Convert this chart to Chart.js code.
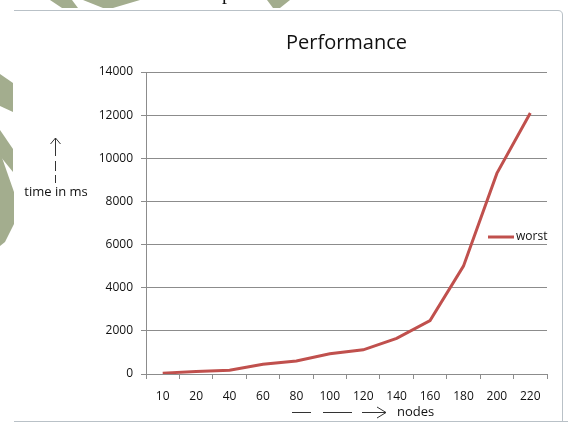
<!DOCTYPE html>
<html>
<head>
<meta charset="utf-8">
<script src="https://cdn.jsdelivr.net/npm/chart.js@4"></script>
<style>
  html, body { margin: 0; padding: 0; background: #ffffff; }
  #wrap { position: relative; width: 568px; height: 428px; }
</style>
</head>
<body>
<div id="wrap"><canvas id="perf" width="568" height="428"></canvas></div>
<script>
// Number of nodes on the x axis
const nodes = ['10', '20', '40', '60', '80', '100', '120', '140', '160', '180', '200', '220'];
// Worst-case running time in milliseconds
const worst = [40, 120, 175, 450, 600, 940, 1120, 1650, 2480, 5000, 9300, 12100];
// Value axis range
const yMin = 0;
const yMax = 14000;
const yStep = 2000;

const FONT = '"Open Sans", "Liberation Sans", sans-serif';
const GRID = '#8c8c8c';
const LINE = '#c0504d';
const TEXT = '#111111';

// Page furniture behind the chart: frame, decorative shapes, clipped heading text
const backdrop = {
  id: 'backdrop',
  beforeDraw(chart) {
    const ctx = chart.ctx;
    ctx.save();
    ctx.fillStyle = '#ffffff';
    ctx.fillRect(0, 0, chart.width, chart.height);

    ctx.fillStyle = '#a3ad8e';
    const shapes = [
      [[50, 0], [72, 0], [78, 8], [62, 8]],
      [[83, 0], [140, 0], [113, 8], [103, 8]],
      [[267, 0], [290, 0], [280, 8], [273, 8]],
      [[0, 74], [13, 83], [13, 112], [0, 106]],
      [[0, 130], [13, 149], [13, 172], [0, 156]],
      [[0, 152], [14, 192], [14, 224], [5, 242], [0, 246]]
    ];
    shapes.forEach(pts => {
      ctx.beginPath();
      ctx.moveTo(pts[0][0], pts[0][1]);
      pts.slice(1).forEach(p => ctx.lineTo(p[0], p[1]));
      ctx.closePath();
      ctx.fill();
    });

    // heading line above the chart, mostly cut off
    ctx.fillStyle = '#111111';
    ctx.font = '20px "Liberation Serif", serif';
    ctx.textBaseline = 'alphabetic';
    ctx.fillText('p', 222, -1);

    // chart object frame
    ctx.strokeStyle = '#b9c1c7';
    ctx.lineWidth = 1;
    ctx.beginPath();
    ctx.moveTo(14, 10.5);
    ctx.lineTo(558, 10.5);
    ctx.quadraticCurveTo(562.5, 10.5, 562.5, 15);
    ctx.lineTo(562.5, 421.5);
    ctx.moveTo(14, 421.5);
    ctx.lineTo(568, 421.5);
    ctx.stroke();
    ctx.restore();
  }
};

// Axis captions with arrows, and the legend entry at the right edge
const captions = {
  id: 'captions',
  afterDraw(chart) {
    const ctx = chart.ctx;
    ctx.save();
    ctx.strokeStyle = '#333333';
    ctx.fillStyle = TEXT;
    ctx.lineWidth = 1;

    // value axis caption: dashed arrow pointing up
    ctx.beginPath();
    ctx.moveTo(55.5, 138); ctx.lineTo(55.5, 156);
    ctx.moveTo(55.5, 161); ctx.lineTo(55.5, 171);
    ctx.moveTo(55.5, 175); ctx.lineTo(55.5, 183);
    ctx.moveTo(50.5, 144); ctx.lineTo(55.5, 138); ctx.lineTo(60.5, 144);
    ctx.stroke();
    ctx.font = '13px ' + FONT;
    ctx.textAlign = 'center';
    ctx.textBaseline = 'middle';
    ctx.fillText('time in ms', 56, 192);

    // category axis caption: dashed arrow pointing right
    ctx.beginPath();
    ctx.moveTo(292, 412.5); ctx.lineTo(311, 412.5);
    ctx.moveTo(323, 412.5); ctx.lineTo(352, 412.5);
    ctx.moveTo(362, 412.5); ctx.lineTo(386, 412.5);
    ctx.moveTo(377, 407); ctx.lineTo(386, 412.5); ctx.lineTo(377, 418);
    ctx.stroke();
    ctx.textAlign = 'left';
    ctx.fillText('nodes', 397, 412);

    // legend entry
    const ds = chart.data.datasets[0];
    ctx.strokeStyle = ds.borderColor;
    ctx.lineWidth = 3;
    ctx.beginPath();
    ctx.moveTo(488, 237); ctx.lineTo(514, 237);
    ctx.stroke();
    ctx.fillStyle = TEXT;
    ctx.font = '12px ' + FONT;
    ctx.fillText(ds.label, 516, 237);
    ctx.restore();
  }
};

new Chart(document.getElementById('perf'), {
  type: 'line',
  data: {
    labels: nodes,
    datasets: [{
      label: 'worst',
      data: worst,
      borderColor: LINE,
      backgroundColor: LINE,
      borderWidth: 3,
      pointRadius: 0,
      tension: 0,
      fill: false
    }]
  },
  options: {
    responsive: false,
    animation: false,
    devicePixelRatio: 1,
    layout: { padding: { left: 0, right: 21, top: 0, bottom: 0 } },
    plugins: {
      legend: { display: false },
      tooltip: { enabled: false },
      title: {
        display: true,
        text: 'Performance',
        fullSize: false,
        color: TEXT,
        font: { family: FONT, size: 20, weight: 'normal' },
        padding: { top: 31, bottom: 17 }
      }
    },
    scales: {
      x: {
        type: 'category',
        offset: true,
        grid: {
          display: true,
          offset: true,
          drawOnChartArea: false,
          drawTicks: true,
          tickLength: 5,
          color: GRID
        },
        border: { display: true, color: GRID, width: 1 },
        ticks: {
          color: TEXT,
          font: { family: FONT, size: 12 },
          padding: 10,
          maxRotation: 0,
          autoSkip: false
        },
        afterFit(scale) { scale.height = 54; }
      },
      y: {
        min: yMin,
        max: yMax,
        grid: {
          display: true,
          drawOnChartArea: true,
          drawTicks: true,
          tickLength: 5,
          color: GRID
        },
        border: { display: true, color: GRID, width: 1 },
        ticks: {
          stepSize: yStep,
          color: TEXT,
          font: { family: FONT, size: 12 },
          padding: 8,
          callback: value => String(value)
        },
        afterFit(scale) { scale.width = 146; }
      }
    }
  },
  plugins: [backdrop, captions]
});
</script>
</body>
</html>
